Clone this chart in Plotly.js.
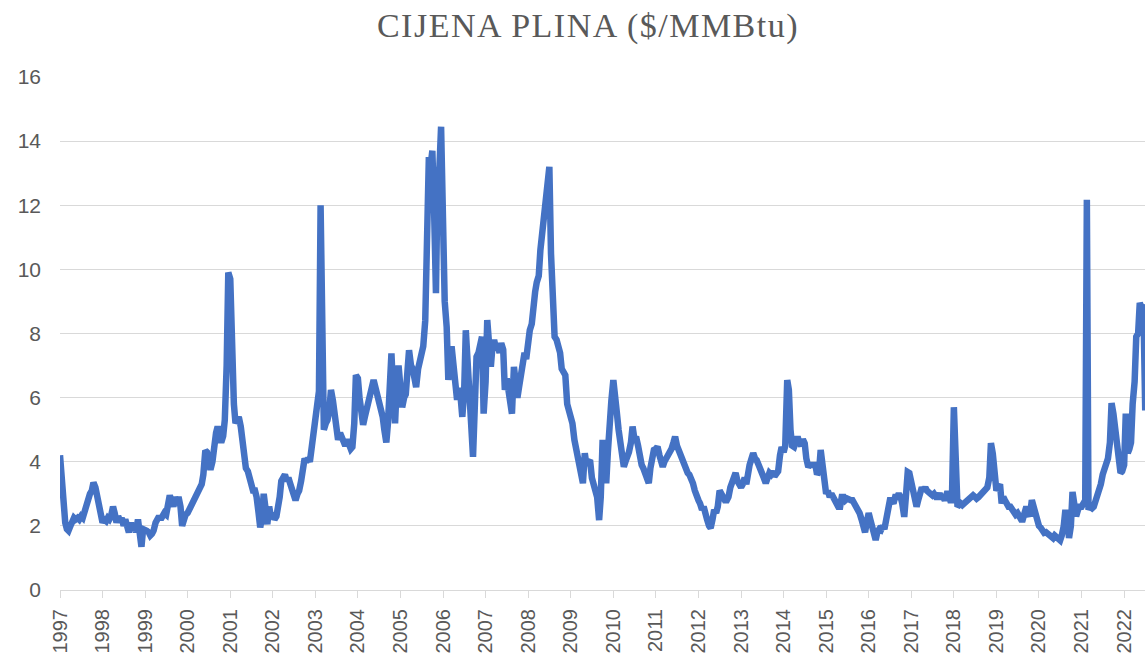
<!DOCTYPE html>
<html>
<head>
<meta charset="utf-8">
<script src="https://cdn.plot.ly/plotly-3.0.1.min.js"></script>
<style>
  html, body { margin: 0; padding: 0; background: #ffffff; }
  #chart { width: 1145px; height: 657px; }
  .gtitle { letter-spacing: 1.5px; }
</style>
</head>
<body>
<div id="chart"></div>
<script>
// Henry Hub gas price ($/MMBtu), semi-monthly readings (1st and 15th of each month)
const p1997 = [4.2, 3.3, 2.6, 2.1, 1.9, 1.85, 2.0, 2.15, 2.25, 2.2, 2.25, 2.2, 2.3, 2.25, 2.5, 2.7, 2.9, 3.0, 3.1, 3.35, 3.2, 2.9, 2.5, 2.2];
const p1998 = [2.1, 2.2, 2.15, 2.25, 2.2, 2.3, 2.6, 2.4, 2.1, 2.3, 2.15, 2.25, 2.0, 2.2, 1.9, 1.8, 2.1, 1.85, 2.0, 1.8, 2.2, 1.7, 1.35, 1.9];
const p1999 = [1.9, 1.85, 1.8, 1.7, 1.75, 1.85, 2.1, 2.25, 2.3, 2.2, 2.3, 2.4, 2.35, 2.6, 2.95, 2.8, 2.6, 2.9, 2.7, 2.9, 2.6, 2.0, 2.3, 2.35];
const p2000 = [2.4, 2.5, 2.6, 2.7, 2.8, 2.9, 3.0, 3.1, 3.3, 3.6, 4.35, 4.3, 4.0, 3.75, 4.0, 4.5, 4.9, 5.1, 4.9, 4.6, 4.8, 5.3, 7.0, 9.9];
const p2001 = [9.7, 7.2, 5.8, 5.2, 5.3, 5.4, 5.1, 4.6, 4.2, 3.8, 3.7, 3.5, 3.2, 3.1, 3.1, 2.9, 2.4, 1.95, 2.3, 3.0, 2.5, 2.05, 2.6, 2.3];
const p2002 = [2.4, 2.2, 2.3, 2.5, 2.9, 3.4, 3.5, 3.6, 3.4, 3.5, 3.3, 3.1, 2.95, 2.8, 3.0, 3.1, 3.4, 3.8, 4.1, 4.0, 4.1, 4.0, 4.5, 5.1];
const p2003 = [5.3, 5.9, 6.2, 12.0, 5.6, 5.0, 5.2, 5.3, 5.6, 6.24, 5.9, 5.6, 5.0, 4.68, 4.9, 4.8, 4.6, 4.5, 4.7, 4.5, 4.4, 4.46, 5.2, 6.7];
const p2004 = [6.6, 6.0, 5.4, 5.15, 5.4, 5.6, 5.8, 6.0, 6.4, 6.55, 6.3, 6.1, 5.9, 5.8, 5.4, 5.0, 4.6, 5.2, 6.2, 7.38, 6.0, 5.2, 6.5, 7.0];
const p2005 = [6.3, 5.7, 6.0, 6.1, 6.8, 7.48, 7.0, 6.9, 6.6, 6.33, 6.9, 7.2, 7.58, 7.6, 8.4, 11.5, 13.5, 13.2, 13.7, 12.0, 9.26, 12.8, 13.2, 14.45];
const p2006 = [9.67, 9.0, 8.2, 6.55, 7.0, 7.6, 7.0, 6.4, 5.93, 6.3, 6.0, 5.4, 6.2, 8.1, 6.9, 5.7, 4.9, 4.15, 5.8, 7.27, 7.4, 7.6, 7.9, 5.5];
const p2007 = [6.5, 8.42, 7.5, 6.96, 7.6, 7.8, 7.5, 7.6, 7.4, 7.7, 7.5, 6.24, 6.6, 6.3, 6.0, 5.5, 6.96, 6.4, 6.0, 6.33, 6.8, 7.1, 7.4, 7.2];
const p2008 = [7.9, 8.1, 8.3, 9.0, 9.3, 9.6, 9.8, 10.6, 11.2, 11.6, 12.3, 12.8, 13.2, 10.5, 8.3, 7.9, 7.8, 7.6, 7.4, 6.9, 6.77, 6.7, 5.8, 5.6];
const p2009 = [5.4, 5.2, 4.68, 4.4, 4.05, 3.9, 3.5, 3.33, 4.27, 3.9, 4.0, 4.05, 3.5, 3.33, 3.2, 2.9, 2.18, 2.9, 4.68, 4.0, 3.33, 4.3, 5.5, 5.9];
const p2010 = [6.55, 5.8, 5.5, 5.0, 4.68, 4.2, 3.84, 4.0, 4.15, 4.3, 4.6, 5.1, 4.7, 4.78, 4.5, 4.05, 3.9, 3.8, 3.6, 3.6, 3.33, 3.8, 4.2, 4.37];
const p2011 = [4.4, 4.47, 4.2, 3.9, 3.84, 4.0, 4.1, 4.27, 4.3, 4.4, 4.6, 4.78, 4.5, 4.37, 4.2, 4.0, 3.96, 3.8, 3.65, 3.6, 3.5, 3.33, 3.1, 2.9];
const p2012 = [2.8, 2.7, 2.5, 2.6, 2.3, 2.2, 2.0, 1.93, 2.2, 2.5, 2.4, 2.6, 3.1, 3.0, 2.8, 2.8, 2.8, 2.9, 3.2, 3.4, 3.5, 3.65, 3.4, 3.3];
const p2013 = [3.2, 3.3, 3.5, 3.3, 3.7, 3.9, 4.1, 4.27, 4.1, 4.05, 3.9, 3.8, 3.6, 3.5, 3.33, 3.5, 3.65, 3.6, 3.7, 3.55, 3.6, 3.7, 4.2, 4.46];
const p2014 = [4.3, 4.5, 6.55, 6.24, 5.0, 4.5, 4.46, 4.6, 4.78, 4.6, 4.5, 4.7, 4.57, 4.1, 3.84, 3.9, 3.9, 3.9, 3.9, 3.6, 3.7, 4.37, 3.9, 3.65];
const p2015 = [3.0, 3.1, 2.9, 3.0, 2.9, 2.8, 2.7, 2.6, 2.6, 2.9, 2.9, 2.8, 2.85, 2.8, 2.8, 2.8, 2.7, 2.6, 2.5, 2.4, 2.2, 2.0, 1.8, 2.1];
const p2016 = [2.4, 2.2, 2.0, 1.9, 1.56, 1.8, 1.9, 1.87, 2.0, 1.9, 2.3, 2.6, 2.8, 2.8, 2.7, 2.9, 2.9, 3.0, 2.9, 2.7, 2.28, 2.9, 3.68, 3.65];
const p2017 = [3.3, 3.2, 2.9, 2.6, 2.8, 3.0, 3.2, 3.1, 3.2, 3.1, 3.0, 3.0, 2.95, 3.0, 2.9, 2.9, 3.0, 2.9, 2.9, 2.8, 3.0, 3.0, 2.8, 2.8];
const p2018 = [5.7, 3.4, 2.6, 2.65, 2.7, 2.65, 2.7, 2.75, 2.8, 2.85, 2.9, 2.95, 2.9, 2.85, 2.9, 2.95, 3.0, 3.05, 3.1, 3.2, 3.5, 4.58, 4.25, 3.5];
const p2019 = [3.1, 3.2, 3.3, 2.7, 2.9, 2.8, 2.6, 2.6, 2.6, 2.5, 2.4, 2.35, 2.4, 2.3, 2.2, 2.2, 2.5, 2.6, 2.4, 2.3, 2.8, 2.6, 2.4, 2.1];
const p2020 = [2.0, 1.95, 1.85, 1.78, 1.8, 1.75, 1.7, 1.65, 1.62, 1.7, 1.65, 1.6, 1.55, 1.7, 2.0, 2.5, 2.2, 1.62, 2.0, 3.06, 2.7, 2.3, 2.5, 2.6];
const p2021 = [2.6, 2.7, 2.8, 12.17, 2.5, 2.6, 2.55, 2.6, 2.75, 2.9, 3.1, 3.3, 3.6, 3.8, 4.05, 4.1, 4.6, 5.83, 5.5, 5.0, 4.8, 4.2, 3.65, 3.7];
const p2022 = [3.9, 5.5, 4.27, 4.4, 4.6, 5.8, 6.5, 7.9, 8.0, 8.95, 8.8, 8.9, 5.6];

const years = [1997, 1998, 1999, 2000, 2001, 2002, 2003, 2004, 2005, 2006, 2007, 2008, 2009,
               2010, 2011, 2012, 2013, 2014, 2015, 2016, 2017, 2018, 2019, 2020, 2021, 2022];
const yearSeries = [p1997, p1998, p1999, p2000, p2001, p2002, p2003, p2004, p2005, p2006, p2007, p2008, p2009,
                    p2010, p2011, p2012, p2013, p2014, p2015, p2016, p2017, p2018, p2019, p2020, p2021, p2022];
const yTicks = [0, 2, 4, 6, 8, 10, 12, 14, 16];

// semi-monthly sampling dates (1st and 15th of each month)
const dates = [];
const prices = [];
function pad(n) { return (n < 10 ? '0' : '') + n; }
years.forEach(function (yr, k) {
  yearSeries[k].forEach(function (v, i) {
    let m = Math.floor(i / 2) + 1;
    let y = yr;
    if (m > 12) { m -= 12; y += 1; }
    const d = (i % 2 === 0) ? 1 : 15;
    dates.push(y + '-' + pad(m) + '-' + pad(d));
    prices.push(v);
  });
});

const trace = {
  type: 'scatter',
  mode: 'lines',
  x: dates,
  y: prices,
  line: { color: '#4472C4', width: 6.5, shape: 'linear' },
  hoverinfo: 'x+y'
};

const layout = {
  width: 1145,
  height: 657,
  paper_bgcolor: '#ffffff',
  plot_bgcolor: '#ffffff',
  margin: { l: 60, r: 0, t: 77, b: 67, pad: 0 },
  showlegend: false,
  font: { family: '"Liberation Sans", Arial, sans-serif', size: 21, color: '#595959' },
  title: {
    text: 'CIJENA PLINA ($/MMBtu)',
    font: { family: '"Liberation Serif", "Times New Roman", serif', size: 34, color: '#595959' },
    x: 588 / 1145,
    xref: 'container',
    xanchor: 'center',
    y: 1 - 25 / 657,
    yref: 'container',
    yanchor: 'middle'
  },
  xaxis: {
    type: 'date',
    range: ['1997-01-01', '2022-06-29'],
    tick0: '1997-01-01',
    dtick: 'M12',
    tickformat: '%Y',
    tickangle: -90,
    ticks: 'outside',
    ticklen: 7,
    tickwidth: 1,
    tickcolor: '#d9d9d9',
    ticklabelstandoff: 3,
    showgrid: false,
    showline: true,
    linecolor: '#d9d9d9',
    linewidth: 1,
    zeroline: false,
    tickfont: { size: 20, color: '#595959' },
    fixedrange: true
  },
  yaxis: {
    range: [0, 16],
    tickvals: yTicks,
    ticktext: yTicks.map(String),
    showgrid: true,
    gridcolor: '#d9d9d9',
    gridwidth: 1,
    zeroline: false,
    showline: false,
    ticks: '',
    ticklabelstandoff: 18,
    tickfont: { size: 21, color: '#595959' },
    fixedrange: true
  }
};

Plotly.newPlot('chart', [trace], layout, { displayModeBar: false, staticPlot: true });
</script>
</body>
</html>
